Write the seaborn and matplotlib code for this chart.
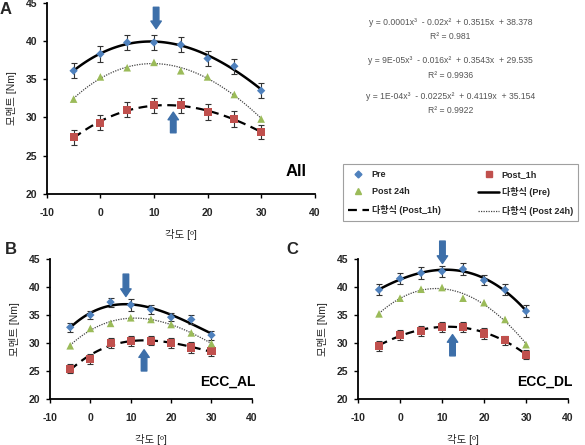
import numpy as np
import pandas as pd
import seaborn as sns
import matplotlib
matplotlib.use("Agg")
import matplotlib.pyplot as plt
from matplotlib.lines import Line2D

# angle (deg)
angle = [-5, 0, 5, 10, 15, 20, 25, 30]

# panel A (All)
a_pre = [36.1, 38.3, 39.8, 39.8, 39.5, 37.7, 36.7, 33.5]
a_post1h = [27.4, 29.3, 31.0, 31.6, 31.6, 30.7, 29.8, 28.1]
a_post24h = [32.4, 35.3, 36.5, 37.2, 36.1, 35.3, 33.0, 29.8]
a_pre_err = [1.0, 1.0, 1.0, 1.0, 1.0, 1.0, 1.0, 1.0]
a_post1h_err = [1.0, 1.0, 1.0, 1.0, 1.0, 1.0, 1.0, 0.9]

# panel B (ECC_AL)
b_pre = [32.8, 35.0, 37.3, 36.8, 36.0, 34.6, 34.2, 31.4]
b_post1h = [25.4, 27.2, 30.0, 30.4, 30.4, 30.0, 29.2, 28.5]
b_post24h = [29.5, 32.6, 33.5, 34.5, 34.2, 33.3, 31.8, 29.9]
b_pre_err = [0.8, 0.8, 0.8, 1.0, 0.8, 0.7, 0.8, 0.8]
b_post1h_err = [0.8, 0.9, 0.9, 0.9, 0.8, 0.9, 0.9, 0.9]

# panel C (ECC_DL)
c_pre = [39.5, 41.5, 42.5, 42.8, 43.2, 41.2, 39.5, 35.7]
c_post1h = [29.5, 31.5, 32.2, 32.8, 32.9, 31.7, 30.5, 27.9]
c_post24h = [35.2, 38.0, 39.6, 39.9, 38.0, 37.2, 34.2, 29.7]
c_pre_err = [1.0, 1.0, 1.0, 1.0, 1.0, 0.9, 1.0, 1.0]
c_post1h_err = [0.9, 0.9, 0.9, 0.9, 0.9, 0.9, 0.8, 0.8]

equations = ["y = 0.0001x³  - 0.02x²  + 0.3515x  + 38.378", "R² = 0.981",
             "y = 9E-05x³  - 0.016x²  + 0.3543x  + 29.535", "R² = 0.9936",
             "y = 1E-04x³  - 0.0225x²  + 0.4119x  + 35.154", "R² = 0.9922"]

groups = ["Pre", "Post_1h", "Post 24h"]
colors = {"Pre": "#4F81BD", "Post_1h": "#C0504D", "Post 24h": "#9BBB59"}
markers = {"Pre": "D", "Post_1h": "s", "Post 24h": "^"}
sizes = {"Pre": 18, "Post_1h": 34, "Post 24h": 30}
arrow_c = "#3D6FA9"

sns.set_theme(style="white")
plt.rcParams['font.family'] = ['Liberation Sans', 'Noto Sans CJK KR', 'DejaVu Sans']
plt.rcParams['axes.unicode_minus'] = False

fig = plt.figure(figsize=(5.85, 4.45), dpi=100)
axA = fig.add_axes([0.080, 0.564, 0.458, 0.430])
axB = fig.add_axes([0.0855, 0.1034, 0.345, 0.3146])
axC = fig.add_axes([0.612, 0.1034, 0.359, 0.3146])

panels = [
    (axA, a_pre, a_post1h, a_post24h, a_pre_err, a_post1h_err, "All", 12,
     [(10.4, 44.4, 41.6), (13.6, 28.0, 30.7)]),
    (axB, b_pre, b_post1h, b_post24h, b_pre_err, b_post1h_err, "ECC_AL", 10,
     [(8.8, 42.3, 38.3), (13.3, 25.0, 28.8)]),
    (axC, c_pre, c_post1h, c_post24h, c_pre_err, c_post1h_err, "ECC_DL", 10,
     [(10.1, 48.2, 44.2), (12.5, 27.7, 31.5)]),
]

styles = {"Pre": dict(ls="-", lw=1.8, color="black"),
          "Post_1h": dict(ls=(0, (4, 2.5)), lw=1.6, color="black"),
          "Post 24h": dict(ls=(0, (1, 1)), lw=0.9, color="#444444")}

for ax, pre, p1, p24, pre_e, p1_e, name, fs, arrows in panels:
    df = pd.DataFrame({"angle": angle * 3,
                       "moment": pre + p1 + p24,
                       "group": ["Pre"] * 8 + ["Post_1h"] * 8 + ["Post 24h"] * 8})
    xs = np.linspace(-5, 30, 100)
    for g in groups:
        sub = df[df.group == g]
        coef = np.polyfit(sub.angle, sub.moment, 3)
        fit = pd.DataFrame({"angle": xs, "moment": np.polyval(coef, xs)})
        sns.lineplot(data=fit, x="angle", y="moment", ax=ax, zorder=2, **styles[g])
    ax.errorbar(angle, pre, yerr=pre_e, fmt="none", ecolor="#333333", elinewidth=0.8, capsize=2, capthick=0.8, zorder=3)
    ax.errorbar(angle, p1, yerr=p1_e, fmt="none", ecolor="#333333", elinewidth=0.8, capsize=2, capthick=0.8, zorder=3)
    for g in groups:
        sub = df[df.group == g]
        sns.scatterplot(data=sub, x="angle", y="moment", ax=ax, marker=markers[g], s=sizes[g],
                        color=colors[g], edgecolor="none", zorder=4, legend=False)
    for (ax_x, y0, y1) in arrows:
        ax.annotate("", xy=(ax_x, y1), xytext=(ax_x, y0), annotation_clip=False,
                    arrowprops=dict(arrowstyle="simple,head_width=0.75,head_length=0.55,tail_width=0.4",
                                    color=arrow_c, mutation_scale=10, shrinkA=0, shrinkB=0))
    ax.set_xlim(-10, 40)
    ax.set_ylim(20, 45)
    ax.set_xticks(range(-10, 41, 10))
    ax.set_yticks(range(20, 46, 5))
    sns.despine(ax=ax)
    for s in ["left", "bottom"]:
        ax.spines[s].set_color("black")
        ax.spines[s].set_linewidth(1.3)
    ax.tick_params(axis="both", direction="out", length=3, width=1, color="black",
                   labelsize=7.5, pad=4, left=True, bottom=True)
    ax.tick_params(axis="x", pad=7)
    for lab in ax.get_xticklabels() + ax.get_yticklabels():
        lab.set_fontweight("bold")
    ax.set_xlabel("각도 [º]", fontsize=7.5, labelpad=8)
    ax.set_ylabel("모멘트 [Nm]", fontsize=7.5, labelpad=6)
    ax.text(0.97 if name == "All" else 1.02, 0.12, name, transform=ax.transAxes, ha="right", va="center",
            fontsize=fs, fontweight="bold", color="black")

fig.text(0.0, 0.995, "A", fontsize=12, fontweight="bold", va="top")
fig.text(0.008, 0.44, "B", fontsize=12, fontweight="bold", va="center")
fig.text(0.49, 0.44, "C", fontsize=12, fontweight="bold", va="center")

eq_y = [0.950, 0.917, 0.863, 0.830, 0.784, 0.751]
for t, yy in zip(equations, eq_y):
    fig.text(0.77, yy, t, fontsize=6.2, color="#555555", ha="center", va="center")

h_pre = Line2D([], [], ls="none", marker="D", ms=3.5, color=colors["Pre"])
h_p1 = Line2D([], [], ls="none", marker="s", ms=5, color=colors["Post_1h"])
h_p24 = Line2D([], [], ls="none", marker="^", ms=5, color=colors["Post 24h"])
l_pre = Line2D([], [], **styles["Pre"])
l_p1 = Line2D([], [], **styles["Post_1h"])
l_p24 = Line2D([], [], **styles["Post 24h"])
leg = fig.legend([h_pre, h_p24, l_p1, h_p1, l_pre, l_p24],
                 ["Pre", "Post 24h", "다항식 (Post_1h)", "Post_1h", "다항식 (Pre)", "다항식 (Post 24h)"],
                 ncol=2, loc="upper left", bbox_to_anchor=(0.578, 0.641), bbox_transform=fig.transFigure,
                 fontsize=6.5, frameon=True, fancybox=False, edgecolor="#888888", handlelength=2.3,
                 handletextpad=0.3, columnspacing=4.2, labelspacing=0.95, borderpad=0.6)
leg.get_frame().set_linewidth(0.8)
for t in leg.get_texts():
    t.set_fontweight("bold")

fig.savefig("out.png", dpi=100)
